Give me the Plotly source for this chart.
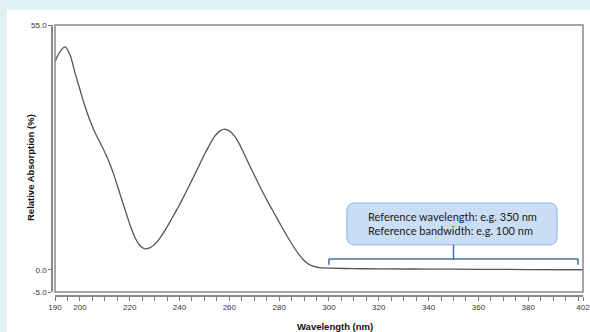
import plotly.graph_objects as go

# ---- data ----
wavelength = [190, 192, 194, 196, 198, 200, 202, 204, 206, 208, 210, 212, 214, 216, 218,
              220, 222, 224, 226, 228, 230, 232, 234, 236, 238, 240, 242, 244, 246, 248,
              250, 252, 254, 256, 258, 260, 262, 264, 266, 268, 270, 272, 274, 276, 278,
              280, 282, 284, 286, 288, 290, 292, 294, 296, 298, 300, 310, 320, 340, 360,
              380, 402]
absorption = [46.7, 49.0, 50.1, 48.3, 44.3, 40.5, 36.8, 33.6, 30.9, 28.7, 26.4, 23.8, 20.7, 17.2, 13.7,
              10.3, 7.4, 5.5, 4.7, 4.9, 5.7, 7.0, 8.7, 10.6, 12.6, 14.6, 16.8, 19.0, 21.3, 23.6,
              25.9, 28.0, 29.9, 31.1, 31.6, 31.2, 30.1, 28.3, 26.0, 23.6, 21.3, 19.0, 16.8, 14.7, 12.7,
              10.7, 8.7, 6.8, 5.0, 3.4, 2.1, 1.2, 0.75, 0.5, 0.4, 0.35, 0.25, 0.2, 0.15, 0.1,
              0.05, 0.0]
x_tick_labels = [190, 200, 220, 240, 260, 280, 300, 320, 340, 360, 380, 402]
x_minor_step = 5
y_tick_labels = [-5.0, 0.0, 55.0]
ref_wavelength = 350
ref_bandwidth = 100
box_lines = ["Reference wavelength: e.g. 350 nm", "Reference bandwidth: e.g. 100 nm"]

# ---- layout helpers ----
W, H = 590, 332
ML, MR, MT, MB = 52, 7, 25, 36
PW, PH = W - ML - MR, H - MT - MB
def px(p):
    return (p - ML) / PW
def py(p):
    return (H - MB - p) / PH

xmin, xmax = 190, 402
ymin, ymax = -5, 55

tickvals = list(range(xmin, 401, x_minor_step)) + [402]
ticktext = [str(v) if v in x_tick_labels else "" for v in tickvals]

fig = go.Figure()
fig.add_trace(go.Scatter(x=wavelength, y=absorption, mode="lines",
                         line=dict(color="#555555", width=1.3, shape="spline", smoothing=1.0),
                         hoverinfo="skip", showlegend=False))

axis_font = dict(family="Liberation Sans, Arial", size=8, color="#333333")
fig.update_layout(
    width=W, height=H,
    margin=dict(l=ML, r=MR, t=MT, b=MB, pad=0, autoexpand=False),
    paper_bgcolor="#dff0f7",
    plot_bgcolor="white",
    showlegend=False,
    xaxis=dict(range=[xmin, xmax], domain=[3 / PW, 1], anchor="free", position=0,
               tickmode="array", tickvals=tickvals, ticktext=ticktext,
               ticks="outside", ticklen=4, tickwidth=1, tickcolor="#777777",
               ticklabeloverflow="allow", automargin=False,
               showline=True, linecolor="#888888", linewidth=1.5,
               showgrid=False, zeroline=False, tickfont=axis_font),
    yaxis=dict(range=[ymin, ymax], domain=[4 / PH, 1], anchor="free", position=0,
               tickmode="array", tickvals=y_tick_labels,
               ticktext=[f"{v:.1f}" for v in y_tick_labels], automargin=False,
               ticks="outside", ticklen=3, tickwidth=1, tickcolor="#777777",
               showline=True, linecolor="#888888", linewidth=1.5,
               showgrid=False, zeroline=False, tickfont=axis_font),
)

shapes = []
# white panel
shapes.append(dict(type="rect", xref="paper", yref="paper", x0=px(7), x1=px(W + 5),
                   y0=py(H + 5), y1=py(10), fillcolor="white", line=dict(width=0), layer="below"))
# plot frame
shapes.append(dict(type="rect", xref="x domain", yref="y domain", x0=0, x1=1, y0=0, y1=1,
                   line=dict(color="#888888", width=1.5)))

# rounded callout box (data coords)
bx0, bx1 = 307.2, 391.6
by0, by1 = 5.6, 15.0
rx, ry = 3.2, 1.8
path = (f"M {bx0+rx},{by1} L {bx1-rx},{by1} Q {bx1},{by1} {bx1},{by1-ry} "
        f"L {bx1},{by0+ry} Q {bx1},{by0} {bx1-rx},{by0} L {bx0+rx},{by0} "
        f"Q {bx0},{by0} {bx0},{by0+ry} L {bx0},{by1-ry} Q {bx0},{by1} {bx0+rx},{by1} Z")
shapes.append(dict(type="path", xref="x", yref="y", path=path,
                   fillcolor="#c9def5", line=dict(color="#8fb4e3", width=1)))

# bracket
bl = ref_wavelength - ref_bandwidth / 2
br = ref_wavelength + ref_bandwidth / 2
bracket_y, bracket_end = 2.4, 1.1
bcol = "#3f6fa8"
shapes.append(dict(type="line", xref="x", yref="y", x0=bl, x1=br, y0=bracket_y, y1=bracket_y,
                   line=dict(color=bcol, width=1.5)))
shapes.append(dict(type="line", xref="x", yref="y", x0=bl, x1=bl, y0=bracket_y, y1=bracket_end,
                   line=dict(color=bcol, width=1.5)))
shapes.append(dict(type="line", xref="x", yref="y", x0=br, x1=br, y0=bracket_y, y1=bracket_end,
                   line=dict(color=bcol, width=1.5)))
shapes.append(dict(type="line", xref="x", yref="y", x0=ref_wavelength, x1=ref_wavelength,
                   y0=bracket_y, y1=by0, line=dict(color=bcol, width=1.5)))
fig.update_layout(shapes=shapes)

title_font = dict(family="Liberation Sans, Arial", size=9.5, color="#111111")
fig.add_annotation(text="<b>Relative Absorption (%)</b>", xref="paper", yref="paper",
                   x=px(30), y=py(168), textangle=-90, showarrow=False, font=title_font,
                   xanchor="center", yanchor="middle")
fig.add_annotation(text="<b>Wavelength (nm)</b>", xref="paper", yref="paper",
                   x=px(335), y=py(326), showarrow=False, font=title_font,
                   xanchor="center", yanchor="middle")
fig.add_annotation(text="<br>".join(box_lines), xref="x", yref="y",
                   x=(bx0 + bx1) / 2, y=(by0 + by1) / 2, showarrow=False, align="left",
                   font=dict(family="Lato, Open Sans", size=11, color="#1a1a1a"),
                   xanchor="center", yanchor="middle")

fig.write_html("out.html", config={"displayModeBar": False})
with open("out.html", "r", encoding="utf-8") as f:
    html = f.read()
html = html.replace("<head>", "<head><style>html,body{margin:0;padding:0;overflow:hidden;}</style>", 1)
with open("out.html", "w", encoding="utf-8") as f:
    f.write(html)
